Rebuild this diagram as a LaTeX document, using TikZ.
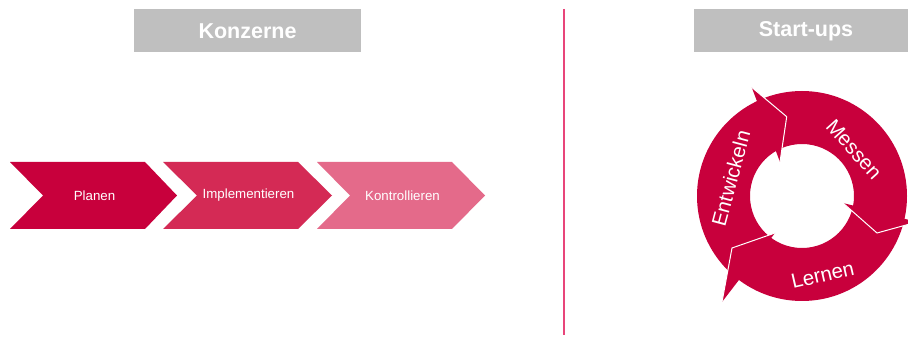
\documentclass[tikz,border=0pt]{standalone}
\usepackage{fontspec}
\setmainfont{Liberation Sans}
\definecolor{ringred}{HTML}{C8003C}
\definecolor{chevA}{HTML}{C8003C}
\definecolor{chevB}{HTML}{D42A55}
\definecolor{chevC}{HTML}{E46A8A}
\definecolor{headgray}{HTML}{BFBFBF}
\definecolor{divpink}{HTML}{E8457A}
\tikzset{
  headbox/.style={fill=headgray, draw=none},
  headtext/.style={text=white, font=\fontsize{21.5}{24}\selectfont\bfseries, inner sep=0pt},
  chevtext/.style={text=white, font=\fontsize{13.3}{15}\selectfont, inner sep=0pt},
  ringtext/.style={text=white, font=\fontsize{20.5}{23}\selectfont, inner sep=0pt},
  headedge/.style={draw=white, line width=1pt},
}
\begin{document}
\begin{tikzpicture}[x=1pt,y=-1pt]
\clip (0,0) rectangle (908,347);
\fill[white] (0,0) rectangle (908,347);

% headers
\fill[headbox] (134,9) rectangle (361,52);
\node[headtext] (konz) at (247.5,31) {Konzerne};
\fill[headbox] (694,9) rectangle (921,52);
\node[headtext] (start) at (806,31) {Start-ups};

% divider
\draw[divpink, line width=1.4pt] (564,9) -- (564,335);

% chevrons
\fill[chevA] (10,162) -- (145,162) -- (177,195.5) -- (145,229) -- (10,229) -- (43,195.5) -- cycle;
\fill[chevB] (163,162) -- (298,162) -- (332,195.5) -- (298,229) -- (163,229) -- (197,195.5) -- cycle;
\fill[chevC] (317,162) -- (452,162) -- (485,195.5) -- (452,229) -- (317,229) -- (350,195.5) -- cycle;
\node[chevtext] (planen) at (94.5,195.5) {Planen};
\node[chevtext] (impl) at (248.5,195.5) {Implementieren};
\node[chevtext] (kontr) at (402.5,195.5) {Kontrollieren};

% ring
\coordinate (c) at (802,196);
\fill[ringred, even odd rule] (c) circle[radius=105pt] (c) circle[radius=52pt];

% heads
\coordinate (eo) at (751.7,87.3);
\coordinate (et) at (786.7,116.7);
\coordinate (ei) at (780,162);
\fill[ringred] (eo) -- (et) -- (ei) -- cycle;
\draw[headedge] (eo) -- (et) -- (ei);

\coordinate (mi) at (843,203);
\coordinate (mt) at (877,233);
\coordinate (mo) at (917,222);
\fill[ringred] (mi) -- (mt) -- (mo) -- cycle;
\draw[headedge] (mi) -- (mt) -- (mo);

\coordinate (li) at (775,233);
\coordinate (lt) at (732,248);
\coordinate (lo) at (722,302);
\fill[ringred] (li) -- (lt) -- (lo) -- cycle;
\draw[headedge] (li) -- (lt) -- (lo);

% ring labels
\node[ringtext, rotate=75] (entw) at (730.7,178.3) {Entwickeln};
\node[ringtext, rotate=-48] (mess) at (854,149.3) {Messen};
\node[ringtext, rotate=13] (lern) at (822.7,275) {Lernen};
\end{tikzpicture}
\end{document}
